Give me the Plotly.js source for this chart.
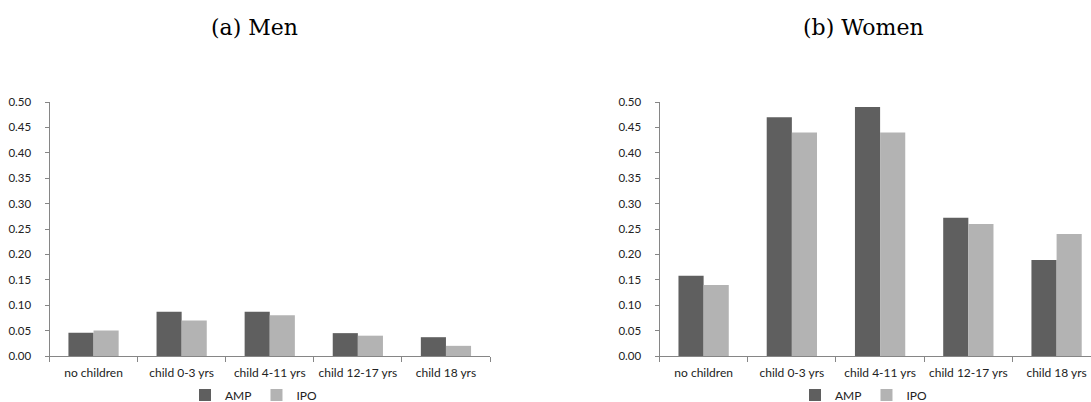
<!DOCTYPE html>
<html>
<head>
<meta charset="utf-8">
<script src="https://cdn.plot.ly/plotly-3.0.1.min.js"></script>
<style>html,body{margin:0;padding:0;background:#fff;overflow:hidden;}</style>
</head>
<body>
<div id="chart" style="width:1091px;height:402px;"></div>
<script>
const categories = ["no children", "child 0-3 yrs", "child 4-11 yrs", "child 12-17 yrs", "child 18 yrs"];
const menAMP = [0.046, 0.087, 0.087, 0.045, 0.037];
const menIPO = [0.050, 0.070, 0.080, 0.040, 0.020];
const womenAMP = [0.158, 0.470, 0.490, 0.272, 0.189];
const womenIPO = [0.140, 0.440, 0.440, 0.260, 0.240];
const yTicks = [0, 0.05, 0.10, 0.15, 0.20, 0.25, 0.30, 0.35, 0.40, 0.45, 0.50];
const titles = ["(a) Men", "(b) Women"];
const seriesNames = ["AMP", "IPO"];

const W = 1091, H = 402;
const mt = 102, mb = 46;
const plotH = H - mt - mb;
const px = v => v / W;
const py = v => (H - mb - v) / plotH;

const darkCol = "#5f5f5f", lightCol = "#b3b3b3", axisCol = "#868686";
const xFont = {family: "Lato, 'Open Sans', sans-serif", size: 12, color: "#222"};
const yFont = {family: "Lato, 'Open Sans', sans-serif", size: 11.5, color: "#222"};

const traces = [
  {type: "bar", x: categories, y: menAMP, name: seriesNames[0], marker: {color: darkCol}, xaxis: "x", yaxis: "y", legend: "legend"},
  {type: "bar", x: categories, y: menIPO, name: seriesNames[1], marker: {color: lightCol}, xaxis: "x", yaxis: "y", legend: "legend"},
  {type: "bar", x: categories, y: womenAMP, name: seriesNames[0], marker: {color: darkCol}, xaxis: "x2", yaxis: "y2", legend: "legend2"},
  {type: "bar", x: categories, y: womenIPO, name: seriesNames[1], marker: {color: lightCol}, xaxis: "x2", yaxis: "y2", legend: "legend2"}
];

function xax(domain, range, anchor) {
  return {
    domain: domain, range: range, anchor: anchor, type: "category",
    showline: true, linecolor: axisCol, linewidth: 1,
    ticks: "outside", tickson: "boundaries", ticklen: 5, tickcolor: axisCol,
    showgrid: false, zeroline: false, tickfont: xFont, ticklabelstandoff: 6, fixedrange: true,
    automargin: false
  };
}
function yax(anchor) {
  return {
    domain: [0, 1], range: [0, 0.5], anchor: anchor,
    tickvals: yTicks, ticktext: yTicks.map(v => v.toFixed(2)),
    showline: true, linecolor: axisCol, linewidth: 1,
    ticks: "outside", ticklen: 4, tickcolor: axisCol,
    showgrid: false, zeroline: false, tickfont: yFont, ticklabelstandoff: 11, fixedrange: true,
    automargin: false
  };
}

const legendBase = {
  orientation: "h", xanchor: "center", yanchor: "middle",
  xref: "container", yref: "container", y: (H - 395) / H,
  font: {family: "Lato, 'Open Sans', sans-serif", size: 12, color: "#222"},
  itemwidth: 30, tracegroupgap: 0, bgcolor: "rgba(0,0,0,0)", itemclick: false
};

const layout = {
  width: W, height: H,
  margin: {l: 0, r: 0, t: mt, b: mb, autoexpand: false},
  paper_bgcolor: "#fff", plot_bgcolor: "#fff",
  barmode: "group", bargap: 0.43, bargroupgap: 0,
  showlegend: true,
  xaxis: xax([px(49.5), px(490)], [-0.5, 4.5], "y"),
  yaxis: yax("x"),
  xaxis2: xax([px(659.5), 1], [-0.5, 4.39], "y2"),
  yaxis2: yax("x2"),
  legend: Object.assign({}, legendBase, {x: 254 / W}),
  legend2: Object.assign({}, legendBase, {x: 864 / W}),
  annotations: [
    {text: titles[0], xref: "paper", yref: "paper", x: px(209), y: py(27), xanchor: "left", yanchor: "middle", showarrow: false,
     font: {family: "'DejaVu Serif', 'Liberation Serif', serif", size: 22, color: "#000"}},
    {text: titles[1], xref: "paper", yref: "paper", x: px(801), y: py(27), xanchor: "left", yanchor: "middle", showarrow: false,
     font: {family: "'DejaVu Serif', 'Liberation Serif', serif", size: 22, color: "#000"}}
  ]
};

Plotly.newPlot("chart", traces, layout, {displayModeBar: false, staticPlot: true});
</script>
</body>
</html>
